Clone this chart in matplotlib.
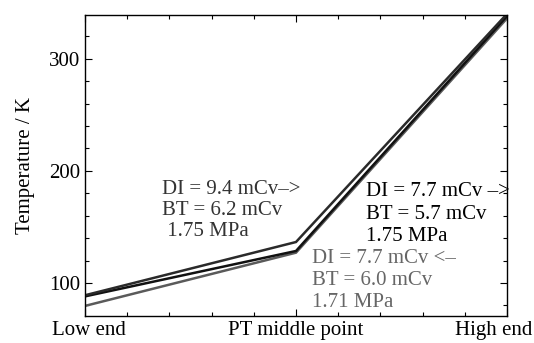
import matplotlib
matplotlib.use("Agg")
import matplotlib.pyplot as plt
import matplotlib.transforms as mtransforms
from matplotlib.ticker import MultipleLocator

plt.rcParams['font.family'] = ['Liberation Serif', 'DejaVu Serif']
plt.rcParams['mathtext.fontset'] = 'stix'

categories = ["Low end", "PT middle point", "High end"]
series_a = [89, 136.5, 340]   # DI = 9.4 mCv, 1.75 MPa
series_b = [88, 128.5, 338]   # DI = 7.7 mCv ->, 1.75 MPa
series_c = [79.5, 127, 336]   # DI = 7.7 mCv <-, 1.71 MPa

ann_a = ["DI = 9.4 mCv–>", "BT = 6.2 mCv", " 1.75 MPa"]
ann_b = ["DI = 7.7 mCv –>", "BT = 5.7 mCv", "1.75 MPa"]
ann_c = ["DI = 7.7 mCv <–", "BT = 6.0 mCv", "1.71 MPa"]

fig = plt.figure(figsize=(5.34, 3.43), dpi=100)
ax = fig.add_axes([85/534, 27/343, 422/534, 301/343])

x = list(range(len(categories)))
ax.plot(x, series_c, color='#5a5a5a', lw=1.8, solid_joinstyle='miter')
ax.plot(x, series_b, color='#111111', lw=1.8, solid_joinstyle='miter')
ax.plot(x, series_a, color='#2a2a2a', lw=1.8, solid_joinstyle='miter')

ax.set_xlim(0, 2)
ax.set_ylim(70.5, 339)
ax.set_xticks(x)
ax.set_xticklabels(categories, fontsize=15)
ax.xaxis.set_minor_locator(MultipleLocator(0.2))
ax.yaxis.set_major_locator(MultipleLocator(100))
ax.yaxis.set_minor_locator(MultipleLocator(20))
ax.tick_params(which='both', direction='in', top=True, right=True, labelsize=15)
ax.tick_params(which='major', length=5, width=0.8)
ax.tick_params(which='minor', length=3, width=0.8)
ax.set_ylabel("Temperature / K", fontsize=15, labelpad=10)
for s in ax.spines.values():
    s.set_linewidth(1.0)

labs = ax.get_xticklabels()
offs = [4, 0, -13]
for lab, o in zip(labs, offs):
    lab.set_transform(lab.get_transform() + mtransforms.ScaledTranslation(o/100, 0, fig.dpi_scale_trans))

def put(lines, x0, ys, color):
    for t, yv in zip(lines, ys):
        ax.text(x0, yv, t, fontsize=15, color=color, va='center', ha='left', clip_on=False)

put(ann_a, 0.365, [183.5, 164.5, 145.5], '#333333')
put(ann_b, 1.332, [181.3, 160.7, 141.1], '#000000')
put(ann_c, 1.076, [121.4, 101.8, 82.1], '#666666')

fig.savefig("out.png", dpi=100)
